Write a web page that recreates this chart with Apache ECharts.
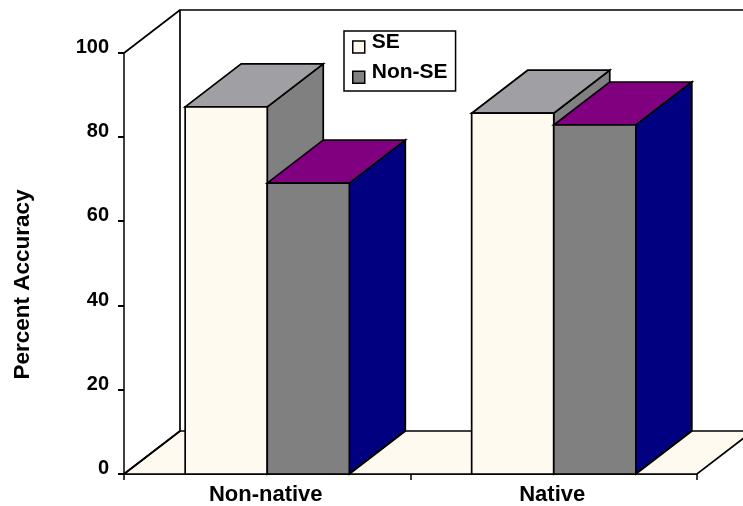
<!DOCTYPE html>
<html>
<head>
<meta charset="utf-8">
<style>html,body{margin:0;padding:0;background:#fff}#c{width:743px;height:506px}</style>
<script src="https://cdn.jsdelivr.net/npm/echarts@6/dist/echarts.min.js"></script>
</head>
<body>
<div id="c"></div>
<script>
var categories = ['Non-native', 'Native'];
var seValues = [87.2, 85.7];
var nonSeValues = [69.1, 82.9];
var yTicks = [0, 20, 40, 60, 80, 100];

var depthX = 56, depthY = 43, barShare = 0.2865, tickLen = 6;
var edge = '#000';
var font = '"Liberation Sans", Arial, sans-serif';

function poly(points, fill) {
  return { type: 'polygon', shape: { points: points },
    style: { fill: fill, stroke: edge, lineWidth: 1.7, lineJoin: 'miter' } };
}
function barItem(side, front, top, right) {
  return function (params, api) {
    var b = api.coord([api.value(0), 0]);
    var t = api.coord([api.value(0), api.value(1)]);
    var w = api.size([1, 0])[0] * barShare;
    var x0 = side < 0 ? b[0] - w : b[0];
    var x1 = x0 + w;
    var y0 = b[1], y1 = t[1];
    return { type: 'group', children: [
      poly([[x1, y0], [x1 + depthX, y0 - depthY], [x1 + depthX, y1 - depthY], [x1, y1]], right),
      poly([[x0, y1], [x1, y1], [x1 + depthX, y1 - depthY], [x0 + depthX, y1 - depthY]], top),
      poly([[x0, y0], [x1, y0], [x1, y1], [x0, y1]], front)
    ]};
  };
}
function wallItem(params, api) {
  var band = api.size([1, 0])[0];
  var a = api.coord([0, 0]);
  var l = a[0] - band / 2, r = l + band * categories.length;
  var y0 = a[1], y1 = api.coord([0, 100])[1];
  var line = { stroke: edge, lineWidth: 1.7, fill: 'none' };
  var children = [
    poly([[l, y0], [l + depthX, y0 - depthY], [r + depthX, y0 - depthY], [r, y0]], '#FFFAF0'),
    { type: 'polyline', shape: { points: [[l, y0], [l + depthX, y0 - depthY], [l + depthX, y1 - depthY], [r + depthX, y1 - depthY]] }, style: line },
    { type: 'line', shape: { x1: l, y1: y1, x2: l + depthX, y2: y1 - depthY }, style: line }
  ];
  yTicks.forEach(function (v) {
    var y = Math.round(api.coord([0, v])[1]);
    children.push({ type: 'line', shape: { x1: l - tickLen, y1: y, x2: l, y2: y }, style: { stroke: edge, lineWidth: 2 } });
  });
  return { type: 'group', children: children };
}

var chart = echarts.init(document.getElementById('c'), null, { renderer: 'canvas' });
chart.setOption({
  animation: false,
  backgroundColor: '#fff',
  grid: { left: 124, right: 46, top: 53, bottom: 32, outerBoundsMode: 'none' },
  legend: {
    data: ['SE', 'Non-SE'],
    orient: 'vertical', left: 344, top: 31, align: 'left',
    icon: 'rect', itemWidth: 12, itemHeight: 12, itemGap: 8,
    padding: [0.5, 8, 7, 8],
    backgroundColor: '#fff', borderColor: '#000', borderWidth: 1.5,
    itemStyle: { borderColor: '#000', borderWidth: 1.5 },
    formatter: '{t|{name}}',
    textStyle: { rich: { t: { fontFamily: font, fontWeight: 'bold', fontSize: 21, color: '#000', padding: [-5, 0, 5, 2] } } }
  },
  xAxis: {
    type: 'category', data: categories,
    axisLine: { show: true, lineStyle: { color: '#000', width: 1.5 } },
    axisTick: { show: true, inside: false, interval: 0, length: 6, lineStyle: { color: '#000', width: 1.5 } },
    axisLabel: { fontFamily: font, fontWeight: 'bold', fontSize: 22, color: '#000', margin: 10, padding: [0, 3, 0, 0] }
  },
  yAxis: {
    type: 'value', min: 0, max: 100, interval: 20,
    name: 'Percent Accuracy', nameLocation: 'middle', nameGap: 90, nameRotate: 90,
    nameTextStyle: { fontFamily: font, fontWeight: 'bold', fontSize: 22.5, color: '#000', padding: [0, 42, 0, 0] },
    axisLine: { show: true, lineStyle: { color: '#000', width: 1.5 } },
    axisTick: { show: false },
    splitLine: { show: false },
    axisLabel: { fontFamily: font, fontWeight: 'bold', fontSize: 20, color: '#000', margin: 15, verticalAlign: 'bottom', lineHeight: 11 }
  },
  series: [
    { type: 'custom', name: 'wall', silent: true, z: 1, renderItem: wallItem,
      encode: { x: 0, y: 1 }, data: [[0, 0]] },
    { type: 'custom', name: 'SE', z: 2, itemStyle: { color: '#FFFAF0' },
      renderItem: barItem(-1, '#FFFAF0', '#A0A0A4', '#808080'), encode: { x: 0, y: 1 },
      data: categories.map(function (c, i) { return [i, seValues[i]]; }) },
    { type: 'custom', name: 'Non-SE', z: 3, itemStyle: { color: '#808080' },
      renderItem: barItem(1, '#808080', '#800080', '#000080'), encode: { x: 0, y: 1 },
      data: categories.map(function (c, i) { return [i, nonSeValues[i]]; }) }
  ]
});
</script>
</body>
</html>
